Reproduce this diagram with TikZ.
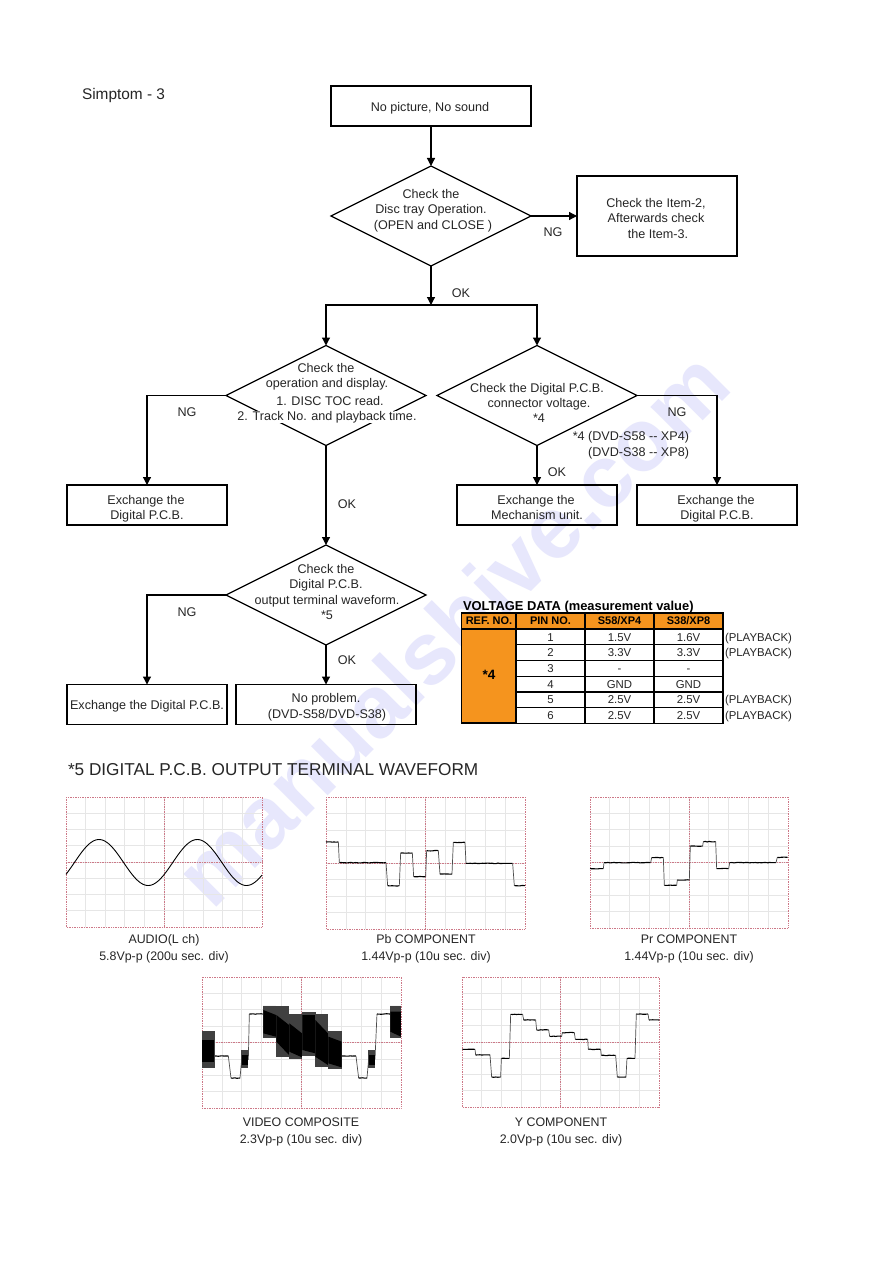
\documentclass[tikz,border=0pt]{standalone}
\usepackage{fontspec}
\setmainfont{Liberation Sans}
\usetikzlibrary{shapes.geometric,arrows.meta,decorations.pathmorphing}
\definecolor{tblorange}{RGB}{245,148,30}
\definecolor{gridgray}{RGB}{230,230,230}
\definecolor{gridred}{RGB}{205,120,135}
\definecolor{wmark}{RGB}{231,231,252}
\newcommand{\fsz}[1]{\fontsize{#1}{#1}\selectfont}
\tikzset{
  boxnode/.style={draw=black,line width=1.2pt,inner sep=0pt,outer sep=0pt},
  dia/.style={diamond,aspect=2,draw=black,line width=1.2pt,inner sep=0pt,outer sep=0pt,minimum width=200pt,minimum height=100pt},
  flow/.style={draw=black,line width=1.2pt,-{Triangle[length=8pt,width=8pt]}},
  tx/.style={inner sep=0pt,outer sep=0pt,font=\fsz{12.6},text=black!85,text height=10pt,text depth=2pt},
  txw/.style={tx,fill=white,inner xsep=1pt,text height=9pt,text depth=3pt,yshift=-1pt},
  captxt/.style={tx,font=\fsz{12.4}},
  cell/.style={draw=black,line width=1.1pt,inner sep=0pt,outer sep=0pt,font=\fsz{11.4},text=black!85,text height=9.5pt,text depth=1.5pt},
  hcell/.style={cell,fill=tblorange,font=\bfseries\fsz{11},text=black,text height=8.5pt,text depth=2pt},
  pb/.style={tx,font=\fsz{11.4},anchor=west},
  gminor/.style={draw=gridgray,line width=.7pt},
  gmajor/.style={draw=gridred,line width=.7pt,densely dotted},
  lev/.style={draw=black,line width=1.1pt,decorate,decoration={random steps,segment length=2pt,amplitude=.3pt}},
  trans/.style={draw=black!70,line width=.7pt},
}
% oscilloscope grid: x0,y0,x1,y1
\newcommand{\scopegrid}[4]{%
  \pgfmathsetmacro{\gdx}{(#3-#1)/10}\pgfmathsetmacro{\gdy}{(#4-#2)/8}%
  \foreach \i in {1,...,9}{\draw[gminor] ({#1+\i*\gdx},#2) -- ({#1+\i*\gdx},#4);}%
  \foreach \i in {1,...,7}{\draw[gminor] (#1,{#2+\i*\gdy}) -- (#3,{#2+\i*\gdy});}%
  \draw[gmajor] (#1,#2) rectangle (#3,#4);
  \draw[gmajor] ({(#1+#3)/2},#2) -- ({(#1+#3)/2},#4);
  \draw[gmajor] (#1,{(#2+#4)/2}) -- (#3,{(#2+#4)/2});
}
\begin{document}
\begin{tikzpicture}[x=1pt,y=-1pt]
\useasboundingbox (0,0) rectangle (893,1263);
\fill[white] (0,0) rectangle (893,1263);
% watermark
\node[inner sep=0pt,text=wmark,rotate=45,font=\bfseries\fsz{88}] (wm) at (451,628) {manualshive.com};

% title
\node[tx,anchor=west,font=\fsz{15.4}] (title) at (82,95.5) {Simptom - 3};

% boxes
\node[boxnode,minimum width=200pt,minimum height=40pt] (start) at (431,106) {};
\node[dia] (d1) at (431,216) {};
\node[boxnode,minimum width=160pt,minimum height=80pt] (side) at (657,216) {};
\coordinate (jn) at (431,305);
\node[dia] (dL) at (326,395.5) {};
\node[dia] (dR) at (537,395.5) {};
\node[boxnode,minimum width=160pt,minimum height=40pt] (exL) at (147,505) {};
\node[boxnode,minimum width=160pt,minimum height=40pt] (exM) at (537,505) {};
\node[boxnode,minimum width=160pt,minimum height=40pt] (exR) at (717,505) {};
\node[dia] (d3) at (326,595) {};
\node[boxnode,minimum width=160pt,minimum height=40pt] (exB) at (147,704.5) {};
\node[boxnode,minimum width=180pt,minimum height=40pt] (noP) at (326,704.5) {};

% connectors
\draw[flow] (start) -- (d1);
\draw[flow] (d1) -- (side);
\draw[flow] (d1) -- (jn);
\draw[flow] (jn) -| (dL.north);
\draw[flow] (jn) -| (dR.north);
\draw[flow] (dL.west) -| (exL.north);
\draw[flow] (dL.south) -- (d3.north);
\draw[flow] (dR.south) -- (exM.north);
\draw[flow] (dR.east) -| (exR.north);
\draw[flow] (d3.west) -| (exB.north);
\draw[flow] (d3.south) -- (noP.north);

% flow texts
\node[tx] (ts) at (430,107) {No picture, No sound};
\node[tx] (a1) at (431,194) {Check the};
\node[tx] (a2) at (431,209) {Disc tray Operation.};
\node[tx] (a3) at (433,225) {(OPEN and CLOSE )};
\node[tx] (b1) at (656,203) {Check the Item-2,};
\node[tx] (b2) at (656,218) {Afterwards check};
\node[tx] (b3) at (658,234) {the Item-3.};
\node[tx] (ng1) at (553,232) {NG};
\node[tx] (ok1) at (461,293) {OK};
\node[tx] (c1) at (326,368) {Check the};
\node[tx] (c2) at (327,383) {operation and display.};
\node[txw] (c3) at (330,401) {1. DISC TOC read.};
\node[txw] (c4) at (327,416) {2. Track No. and playback time.};
\node[tx] (ng2) at (187,412) {NG};
\node[tx] (ok2) at (347,504) {OK};
\node[tx] (e1) at (537,388) {Check the Digital P.C.B.};
\node[tx] (e2) at (539,403) {connector voltage.};
\node[tx] (e3) at (539,418) {*4};
\node[tx] (ng3) at (677,412) {NG};
\node[tx,anchor=east] (n1) at (689,436) {*4 (DVD-S58 {-}{-} XP4)};
\node[tx,anchor=east] (n2) at (689,452) {(DVD-S38 {-}{-} XP8)};
\node[tx] (ok3) at (557,472) {OK};
\node[tx] (f1) at (146,500) {Exchange the};
\node[tx] (f2) at (147,515) {Digital P.C.B.};
\node[tx] (g1) at (536,500) {Exchange the};
\node[tx] (g2) at (537,515) {Mechanism unit.};
\node[tx] (h1) at (716,500) {Exchange the};
\node[tx] (h2) at (717,515) {Digital P.C.B.};
\node[tx] (k1) at (326,569) {Check the};
\node[tx] (k2) at (326,584) {Digital P.C.B.};
\node[tx] (k3) at (327,600) {output terminal waveform.};
\node[tx] (k4) at (327,615) {*5};
\node[tx] (ng4) at (187,612) {NG};
\node[tx] (ok4) at (347,660) {OK};
\node[tx] (m1) at (147,705) {Exchange the Digital P.C.B.};
\node[tx] (p1) at (326,698) {No problem.};
\node[tx] (p2) at (327,714) {(DVD-S58/DVD-S38)};

% voltage table
\node[tx,anchor=west,font=\bfseries\fsz{12.9},text=black] (vt) at (463,606.5) {VOLTAGE DATA (measurement value)};
\node[hcell,minimum width=55pt,minimum height=16pt] (h0) at (489,621) {REF. NO.};
\node[hcell,minimum width=69pt,minimum height=16pt] (h1c) at (550.5,621) {PIN NO.};
\node[hcell,minimum width=69pt,minimum height=16pt] (h2c) at (619.5,621) {S58/XP4};
\node[hcell,minimum width=69pt,minimum height=16pt] (h3c) at (688.5,621) {S38/XP8};
\node[hcell,minimum width=55pt,minimum height=94pt,font=\bfseries\fsz{13.5}] (rf) at (489,676) {*4};
\foreach \r/\yy/\p/\u/\v in {1/637/1/1.5V/1.6V,2/652.7/2/3.3V/3.3V,3/668.4/3/-/-,4/684.1/4/GND/GND,5/699.8/5/2.5V/2.5V,6/715.5/6/2.5V/2.5V}{
  \node[cell,minimum width=69pt,minimum height=15.7pt] (pin\r) at (550.5,\yy) {\p};
  \node[cell,minimum width=69pt,minimum height=15.7pt] (sa\r) at (619.5,\yy) {\u};
  \node[cell,minimum width=69pt,minimum height=15.7pt] (sb\r) at (688.5,\yy) {\v};
}
\foreach \r/\yy in {1/637,2/652.7,5/699.8,6/715.5}{
  \node[pb] (pl\r) at (725,\yy) {(PLAYBACK)};
}

% waveform heading
\node[tx,anchor=west,font=\fsz{17.2},text height=15pt,text depth=3pt] (wh) at (68,769) {*5 DIGITAL P.C.B. OUTPUT TERMINAL WAVEFORM};

% scopes
\scopegrid{66}{797}{262}{927}
\scopegrid{326}{797}{525}{929}
\scopegrid{590}{797}{788}{928}
\scopegrid{202}{977}{401}{1108}
\scopegrid{462}{977}{659}{1107}

% AUDIO
\draw[black,line width=.9pt] plot[domain=66:262,samples=120,smooth] (\x,{862.5-23*cos((\x-99)/98.3*360)});

% Pb
\begin{scope}[shift={(320,790)},x=0.3333pt,y=-0.3333pt]
\foreach \a/\b/\yy [remember=\b as \lb (initially 18),remember=\yy as \ly (initially 156)] in {18/55/156,58/198/218,203/238/287,242/277/189,281/317/260,320/355/182,360/396/252,400/435/157,438/578/220,583/615/287}{
  \draw[trans] (\lb,\ly) -- (\a,\yy);
  \draw[lev] (\a,\yy) -- (\b,\yy);
}
\end{scope}
% Pr
\begin{scope}[shift={(580,790)},x=0.3333pt,y=-0.3333pt]
\foreach \a/\b/\yy [remember=\b as \lb (initially 30),remember=\yy as \ly (initially 236)] in {30/70/236,72/212/218,215/250/203,253/290/286,292/328/270,331/368/168,370/407/155,410/446/236,449/588/218,592/623/202}{
  \draw[trans] (\lb,\ly) -- (\a,\yy);
  \draw[lev] (\a,\yy) -- (\b,\yy);
}
\end{scope}
% Y
\begin{scope}[shift={(455,970)},x=0.3333pt,y=-0.3333pt]
\foreach \a/\b/\yy [remember=\b as \lb (initially 22),remember=\yy as \ly (initially 238)] in {22/60/238,62/105/255,110/137/321,139/163/265,167/203/133,206/242/150,245/281/180,284/320/199,322/358/188,361/398/208,400/437/238,439/482/256,487/513/321,516/540/265,544/579/132,582/613/150}{
  \draw[trans] (\lb,\ly) -- (\a,\yy);
  \draw[lev] (\a,\yy) -- (\b,\yy);
}
\end{scope}
% VIDEO
\begin{scope}[shift={(195,970)},x=0.3333pt,y=-0.3333pt]
\foreach \a/\b/\yy [remember=\b as \lb (initially 58),remember=\yy as \ly (initially 258)] in {58/100/258,108/135/324,140/160/268,163/203/132,441/483/258,491/516/324,521/540/268,546/585/132}{
  \draw[trans] (\lb,\ly) -- (\a,\yy);
  \draw[lev] (\a,\yy) -- (\b,\yy);
}
\foreach \a/\b/\tp/\bt/\ctl/\cbl/\ctr/\cbr in {22/58/183/295/210/275/210/275,140/160/240/295/255/285/255/285,205/243/107/205/120/190/135/200,244/282/108/260/135/215/165/255,283/321/133/268/160/245/190/262,322/361/127/258/135/240/135/250,361/399/132/290/150/260/190/285,400/440/183/297/200/280/215/292,521/540/240/295/255/285/255/285,586/618/107/205/125/185/125/200}{
  \pgfmathsetmacro{\xnext}{\a+3}
  \foreach \xx in {\a,\xnext,...,\b}{\draw[black!75,line width=.55pt] (\xx,\tp) -- (\xx,\bt);}
  \fill[black] (\a,\ctl) -- (\b,\ctr) -- (\b,\cbr) -- (\a,\cbl) -- cycle;
}
\end{scope}

% captions
\node[captxt] (ca1) at (164,939) {AUDIO(L ch)};
\node[captxt] (ca2) at (164,956) {5.8Vp-p (200u sec. div)};
\node[captxt] (cb1) at (426,939) {Pb COMPONENT};
\node[captxt] (cb2) at (426,956) {1.44Vp-p (10u sec. div)};
\node[captxt] (cc1) at (689,939) {Pr COMPONENT};
\node[captxt] (cc2) at (689,956) {1.44Vp-p (10u sec. div)};
\node[captxt] (cd1) at (301,1122) {VIDEO COMPOSITE};
\node[captxt] (cd2) at (301,1139) {2.3Vp-p (10u sec. div)};
\node[captxt] (ce1) at (561,1122) {Y COMPONENT};
\node[captxt] (ce2) at (561,1139) {2.0Vp-p (10u sec. div)};
\end{tikzpicture}
\end{document}
